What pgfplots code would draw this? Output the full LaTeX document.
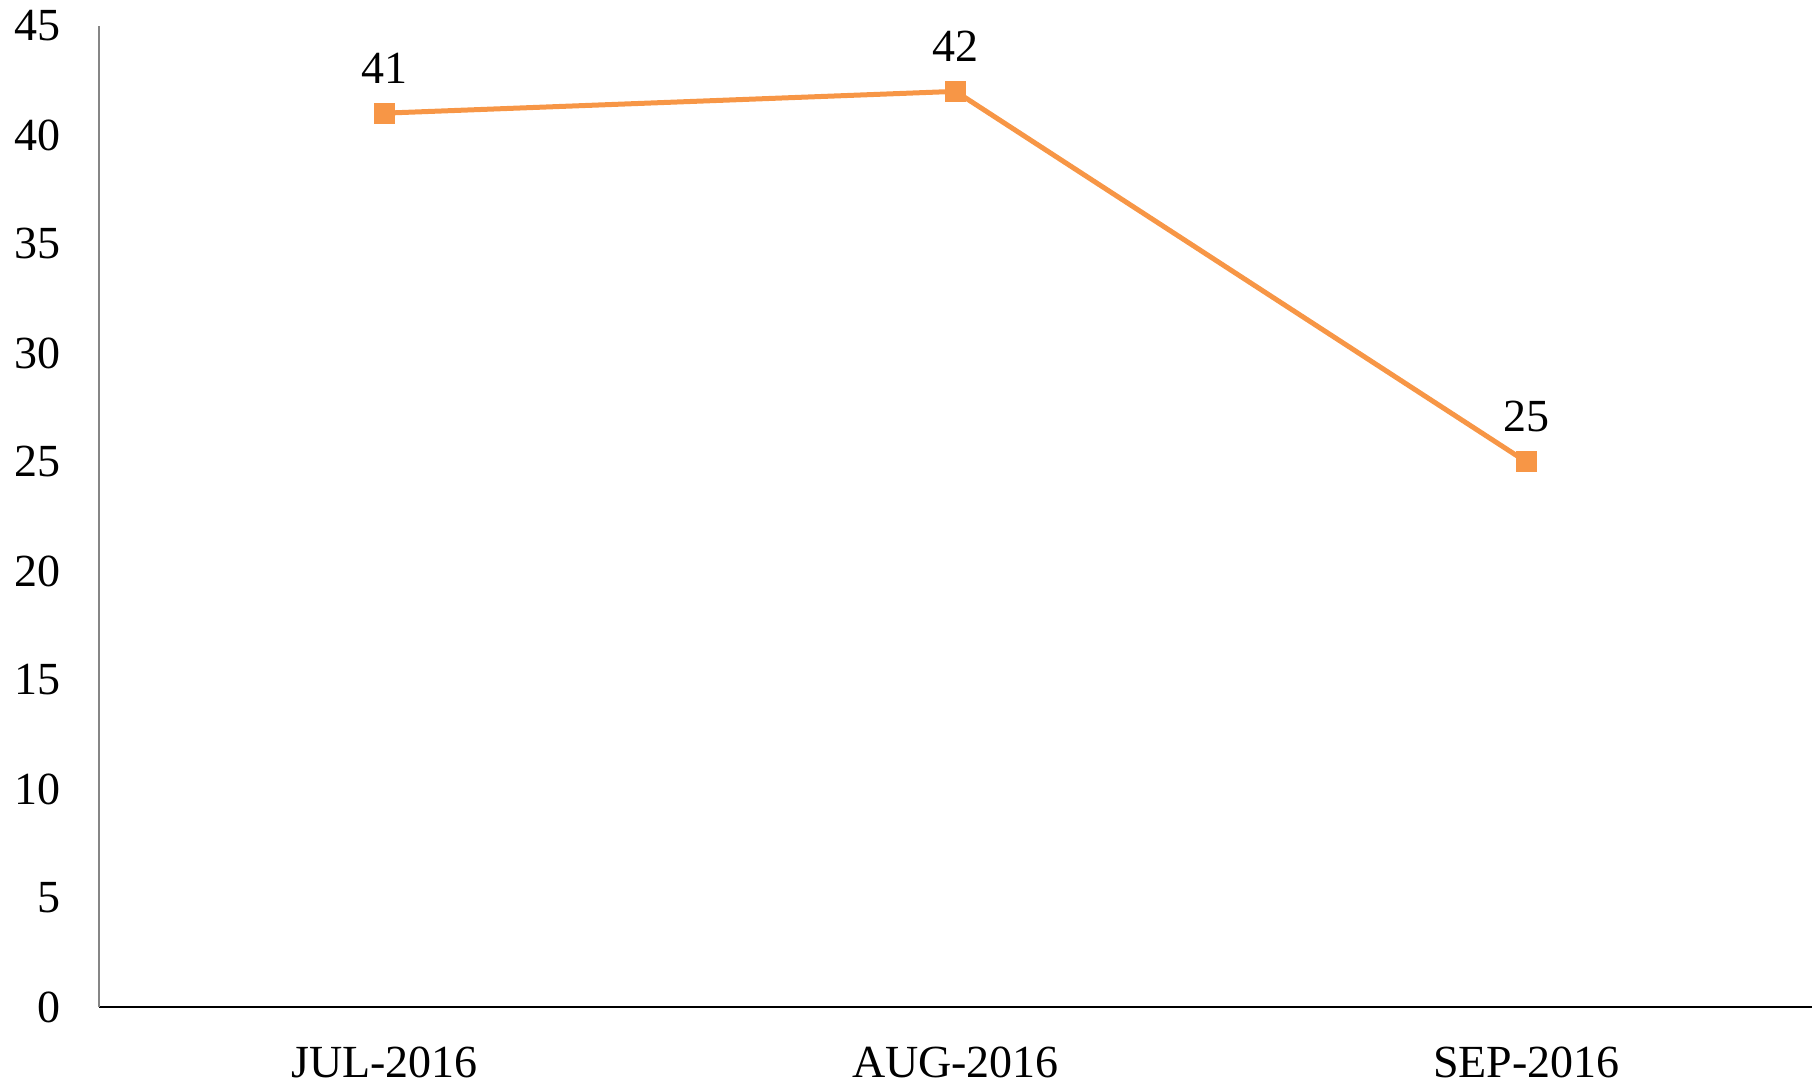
\documentclass[border=0pt]{standalone}
\usepackage{fontspec}
\setmainfont{Liberation Serif}
\usepackage{pgfplots}
\pgfplotsset{compat=1.18}
\definecolor{lineorange}{HTML}{F79646}
\definecolor{axisgray}{HTML}{868686}
\begin{document}
\begin{tikzpicture}
\begin{axis}[
    name=ax,
    scale only axis,
    width=428.25pt,
    height=245.25pt,
    xmin=-0.5, xmax=2.5,
    ymin=0, ymax=45,
    ytick={0,5,...,45},
    xtick={0,1,2},
    xticklabels={JUL-2016,AUG-2016,SEP-2016},
    axis x line*=bottom,
    axis y line*=left,
    x axis line style={black, line width=0.5pt, -},
    y axis line style={axisgray, line width=0.5pt, -},
    major tick length=0pt,
    tick style={draw=none},
    ticklabel style={font=\fontsize{11.5}{13}\selectfont},
    /pgf/number format/assume math mode=true,
    yticklabel style={xshift=-6pt},
    xticklabel style={yshift=-6.5pt},
    clip=false,
]
\addplot[lineorange, line width=1.25pt, mark=square*, mark size=2pt,
    mark options={fill=lineorange, draw=lineorange},
    nodes near coords,
    every node near coord/.append style={black, font=\fontsize{11.5}{13}\selectfont, yshift=3.5pt}]
    coordinates {(0,41) (1,42) (2,25)};
\end{axis}
\pgfresetboundingbox
\path[use as bounding box] ([xshift=-24.75pt,yshift=-19.75pt]ax.south west) rectangle ([yshift=6.5pt]ax.north east);
\end{tikzpicture}
\end{document}
